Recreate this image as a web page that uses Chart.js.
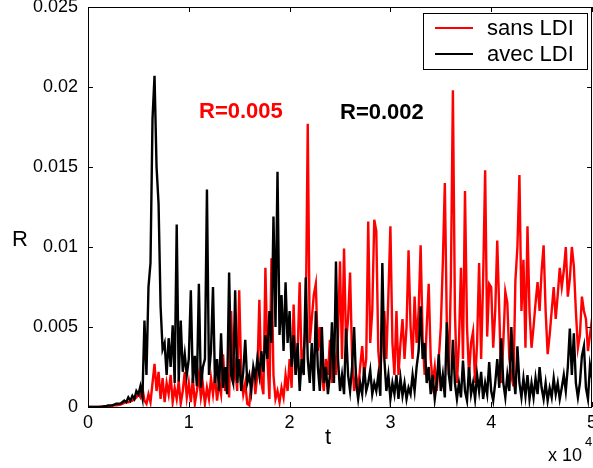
<!DOCTYPE html>
<html>
<head>
<meta charset="utf-8">
<script src="https://cdn.jsdelivr.net/npm/chart.js@4.4.0/dist/chart.umd.min.js"></script>
<style>
  html, body { margin: 0; padding: 0; background: #fff; }
  #wrap { width: 593px; height: 468px; }
</style>
</head>
<body>
<div id="wrap"><canvas id="chart" width="593" height="468"></canvas></div>
<script>
// sampled every 0.02 (x 10^4) from t = 0 to t = 5
const T_STEP = 0.02;

// R values, in units of 1e-3
const rSans = [
  0, 0, 0, 0, 0, 0, 0.02, 0.03, 0.04, 0.05, 0.05, 0.06, 0.08, 0.1, 0.1, 0.12, 0.15,
  0.2, 0.25, 0.3, 0.3, 0.35, 0.4, 0.5, 0.6, 0.8, 0.6, 1.2,
  0.4, 0.2, 0.8, 0.3, 1.5, 2.7, 1.0, 2.2, 0.5, 1.8, 0.3, 1.5, 0.8,
  2.0, 0.3, 1.2, 0.5, 1.6, 0.2, 1.0, 2.2, 0.6, 1.5, 0.3, 1.8, 0.2, 1.0, 2.0, 0.6, 1.4, 0.2,
  1.2, 0.5, 1.8, 0.8, 2.0, 0.4, 1.5, 0.8, 3.3, 1.0, 2.0, 0.6, 6.0, 1.5,
  2.5, 1.0, 7.3, 2.0, 0.8, 1.5, 0.2, 0.1, 1.5, 2.5, 0.8, 2.0, 6.7, 1.5, 0.8, 8.7, 3.0, 0.5,
  9.3, 2.0, 0.5, 1.0, 0.3, 1.2, 0.6, 2.0, 1.0, 3.0, 1.2, 6.4, 2.0, 3.5, 7.8, 2.5, 3.5,
  5.0, 17.7, 4.0, 5.5, 7.0, 7.7, 3.5, 5.0, 2.0, 1.0, 3.0, 2.0, 4.2, 1.5, 3.5, 2.0, 4.4, 9.1, 3.0, 9.9,
  4.0, 5.5, 8.4, 3.0, 1.0, 2.0, 1.0, 2.5, 3.8, 2.0, 3.0, 11.6, 4.0, 6.0, 11.7, 11.0, 3.5, 2.0,
  4.5, 6.0, 3.0, 7.0, 11.3, 4.0, 2.0, 6.0, 2.0, 4.0, 5.5, 3.0, 5.0, 9.8, 5.0, 3.0, 6.9, 4.0,
  6.0, 10.1, 4.2, 2.0, 5.0, 7.7, 3.0, 1.5, 2.5, 1.0, 3.0, 5.0, 9.0, 14.0, 5.0, 2.0, 8.0, 19.8,
  6.0, 1.5, 4.0, 8.7, 3.0, 13.5, 5.0, 2.0, 4.0, 4.7, 1.5, 4.0, 9.0, 3.0, 8.0, 14.8, 4.4, 7.7,
  7.5, 3.7, 6.0, 10.4, 6.0, 1.5, 4.0, 7.2, 6.5, 3.0, 2.0, 1.3, 7.9, 10.0, 14.5, 6.0, 9.2, 3.7,
  11.3, 6.0, 3.7, 5.0, 6.5, 7.8, 6.0, 8.5, 10.1, 6.0, 3.3, 4.5, 6.0, 7.5, 5.5, 7.0, 8.7, 7.5,
  8.5, 10.0, 6.9, 8.0, 10.0, 8.8, 6.0, 3.7, 4.5, 6.9, 6.0, 5.5, 3.5, 4.5, 5.5
];

const rAvec = [
  0, 0, 0, 0, 0, 0, 0, 0, 0.05, 0.05, 0.1, 0.1, 0.1, 0.15, 0.2, 0.2, 0.2,
  0.3, 0.4, 0.3, 0.6, 0.4, 0.7, 0.5, 1.0, 0.8, 1.3, 0.6,
  5.4, 2.0, 7.5, 9.0, 18.0, 20.7, 15.0, 12.7, 6.3, 3.6, 4.0, 2.0, 4.3,
  2.5, 5.1, 1.5, 11.4, 1.6, 5.4, 2.2, 3.3, 2.0, 3.0, 7.3, 1.5, 3.2, 1.3, 7.7, 1.2, 2.5, 3.0,
  13.6, 2.0, 3.5, 7.5, 1.5, 3.0, 1.0, 4.6, 1.2, 2.5, 0.8, 8.4, 2.0, 1.5,
  7.3, 1.5, 3.0, 1.0, 2.2, 4.2, 1.5, 2.0, 1.0, 2.5, 1.8, 3.0, 2.0, 3.5, 2.2, 4.5, 3.0, 6.0,
  4.0, 11.9, 5.0, 14.7, 4.5, 7.0, 3.5, 7.8, 4.0, 6.0, 2.5, 4.5, 2.0, 4.0, 1.0, 3.0, 2.0,
  8.1, 3.0, 1.5, 4.0, 1.0, 6.0, 2.5, 1.0, 5.0, 1.5, 2.5, 0.8, 2.0, 5.3, 1.5, 9.1, 3.0, 1.0, 2.0, 0.8,
  4.9, 2.0, 1.0, 2.5, 5.0, 1.5, 0.5, 1.5, 0.8, 2.5, 1.0, 1.5, 2.3, 0.8, 1.5, 1.0, 2.0, 0.7,
  9.0, 3.0, 1.0, 2.0, 0.5, 1.5, 0.8, 2.0, 0.5, 1.8, 0.7, 1.5, 0.5, 1.2, 0.8, 2.0, 1.0, 2.5,
  3.5, 6.3, 3.0, 4.0, 1.5, 2.5, 0.8, 2.0, 0.5, 1.5, 3.3, 1.0, 2.0, 0.6, 5.3, 2.0, 1.0, 4.2,
  1.5, 0.5, 1.5, 0.6, 2.9, 1.0, 0.4, 2.5, 0.8, 1.5, 0.5, 2.0, 1.0, 2.2, 0.5, 1.5, 0.8, 2.8,
  1.0, 0.4, 1.5, 3.0, 1.2, 4.3, 1.5, 0.6, 2.0, 1.0, 5.0, 2.0, 0.8, 3.8, 1.5, 0.6, 1.8, 0.7,
  2.0, 0.5, 1.5, 0.6, 1.8, 0.8, 2.5, 1.2, 0.5, 1.5, 0.4, 1.2, 0.6, 1.8, 0.8, 1.5, 0.5, 1.2,
  2.0, 1.0, 2.5, 4.9, 2.0, 4.6, 1.5, 0.6, 1.5, 3.2, 3.8, 1.2, 0.5, 2.6, 1.8
];

const xTickLabels = ["0", "1", "2", "3", "4", "5"];
const yTickLabels = ["0", "0.005", "0.01", "0.015", "0.02", "0.025"];
const seriesNames = ["sans LDI", "avec LDI"];
const notes = ["R=0.005", "R=0.002"];

const FONT = "'Liberation Sans', Arial, Helvetica, sans-serif";

function toPoints(values) {
  return values.map((v, i) => ({ x: i * T_STEP, y: v / 1000 }));
}

// matlab style box with ticks pointing inwards on all four sides
const framePlugin = {
  id: "frame",
  afterDraw(chart) {
    const ctx = chart.ctx;
    const a = chart.chartArea;
    const xs = chart.scales.x;
    const ys = chart.scales.y;
    ctx.save();
    ctx.strokeStyle = "#000";
    ctx.lineWidth = 1;
    ctx.strokeRect(a.left + 0.5, a.top + 0.5, a.right - a.left - 1, a.bottom - a.top);
    ctx.beginPath();
    xs.ticks.forEach((t) => {
      const px = Math.round(xs.getPixelForValue(t.value)) + 0.5;
      ctx.moveTo(px, a.bottom);
      ctx.lineTo(px, a.bottom - 5);
      ctx.moveTo(px, a.top);
      ctx.lineTo(px, a.top + 5);
    });
    ys.ticks.forEach((t) => {
      const py = Math.round(ys.getPixelForValue(t.value)) + 0.5;
      ctx.moveTo(a.left, py);
      ctx.lineTo(a.left + 5, py);
      ctx.moveTo(a.right, py);
      ctx.lineTo(a.right - 5, py);
    });
    ctx.stroke();
    ctx.restore();
  },
};

const textPlugin = {
  id: "texts",
  afterDraw(chart) {
    const ctx = chart.ctx;
    ctx.save();
    ctx.textBaseline = "middle";

    // axis labels
    ctx.fillStyle = "#000";
    ctx.textAlign = "center";
    ctx.font = "22px " + FONT;
    ctx.fillText("R", 20, 240);
    ctx.fillText("t", 328, 438);

    ctx.textAlign = "left";
    ctx.font = "18px " + FONT;
    ctx.fillText("x 10", 548, 456);
    ctx.font = "13px " + FONT;
    ctx.fillText("4", 585, 442);

    // the two mean values
    ctx.font = "bold 22px " + FONT;
    ctx.fillStyle = "#ff0000";
    ctx.fillText(notes[0], 199, 112);
    ctx.fillStyle = "#000";
    ctx.fillText(notes[1], 340, 113);

    // legend box
    ctx.fillStyle = "#fff";
    ctx.fillRect(423, 13, 165, 56);
    ctx.strokeStyle = "#000";
    ctx.lineWidth = 1;
    ctx.strokeRect(423.5, 13.5, 164, 56);
    ctx.font = "22px " + FONT;
    chart.data.datasets.forEach((ds, i) => {
      const y = 28 + i * 26;
      ctx.strokeStyle = ds.borderColor;
      ctx.lineWidth = 2;
      ctx.beginPath();
      ctx.moveTo(435, y);
      ctx.lineTo(473, y);
      ctx.stroke();
      ctx.fillStyle = "#000";
      ctx.fillText(ds.label, 487, y + 1);
    });
    ctx.restore();
  },
};

new Chart(document.getElementById("chart"), {
  type: "line",
  data: {
    datasets: [
      {
        label: seriesNames[0],
        data: toPoints(rSans),
        borderColor: "#ff0000",
        order: 2,
      },
      {
        label: seriesNames[1],
        data: toPoints(rAvec),
        borderColor: "#000000",
        order: 1,
      },
    ],
  },
  options: {
    responsive: false,
    animation: false,
    layout: { padding: { left: 0, right: 1, top: 7, bottom: 0 } },
    elements: {
      point: { radius: 0 },
      line: { borderWidth: 2.4, tension: 0, fill: false },
    },
    plugins: { legend: { display: false }, tooltip: { enabled: false } },
    scales: {
      x: {
        type: "linear",
        min: 0,
        max: 5,
        afterFit(s) {
          s.height = 61;
          s.paddingLeft = 0;
          s.paddingRight = 0;
        },
        grid: { display: false, drawTicks: false },
        border: { display: false },
        ticks: {
          stepSize: 1,
          maxRotation: 0,
          padding: 5,
          color: "#000",
          font: { family: FONT, size: 18 },
          callback: (v, i) => xTickLabels[i],
        },
      },
      y: {
        min: 0,
        max: 0.025,
        afterFit(s) {
          s.width = 88;
          s.paddingTop = 0;
          s.paddingBottom = 0;
        },
        grid: { display: false, drawTicks: false },
        border: { display: false },
        ticks: {
          stepSize: 0.005,
          padding: 10,
          color: "#000",
          font: { family: FONT, size: 18 },
          callback: (v, i) => yTickLabels[i],
        },
      },
    },
  },
  plugins: [framePlugin, textPlugin],
});
</script>
</body>
</html>
